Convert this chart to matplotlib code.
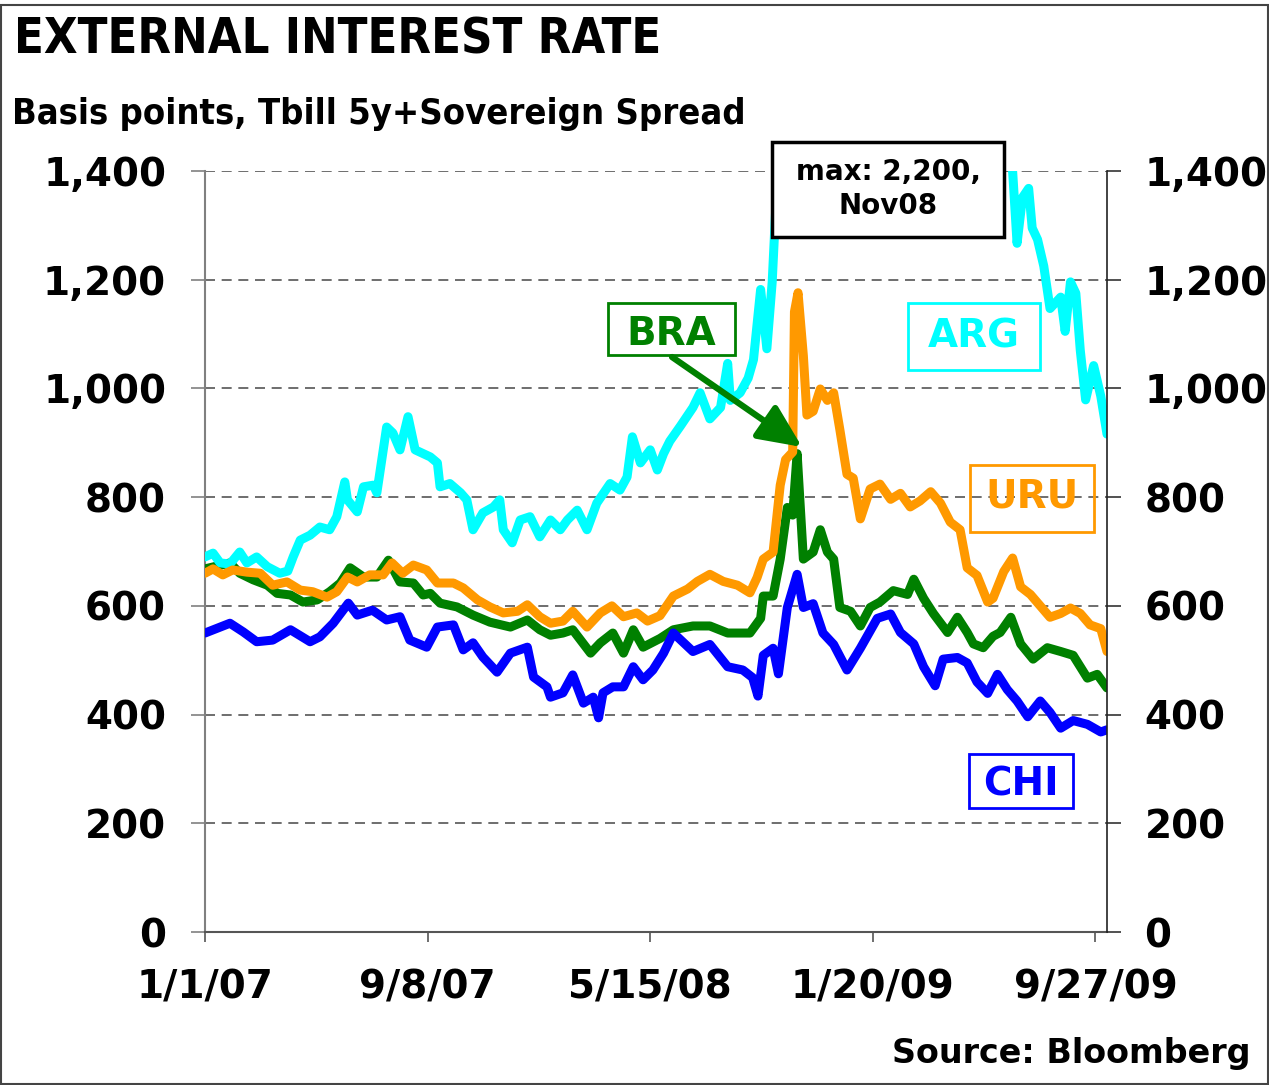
import pandas as pd
import matplotlib
matplotlib.use('Agg')
from matplotlib import pyplot as plt
from matplotlib.patches import Rectangle, FancyArrowPatch
from matplotlib.ticker import FuncFormatter

# readings: days since 1 Jan 2007 and basis points
start = pd.Timestamp('2007-01-01')

argDays = [0, 9, 17, 28, 39, 47, 58, 70, 84, 93, 99, 107, 118, 129, 140, 148, 157, 160, 171, 178,
           189, 193, 204, 211, 219, 228, 236, 253, 261, 264, 275, 287, 294, 301, 312, 324, 331, 335, 345, 354,
           365, 376, 388, 399, 407, 418, 429, 440, 455, 466, 474, 480, 489, 500, 508, 515, 522, 534, 548, 556,
           567, 579, 587, 590, 601, 610, 616, 624, 631, 637, 640, 646, 657, 672, 685, 700, 725, 758, 792, 826,
           860, 893, 907, 912, 918, 925, 929, 935, 942, 949, 961, 966, 972, 978, 983, 989, 998, 1006, 1013]
argBp = [690, 697, 679, 677, 699, 679, 690, 672, 660, 664, 690, 721, 730, 745, 740, 764, 828, 795, 773, 819,
         822, 808, 929, 918, 887, 948, 887, 874, 863, 819, 825, 808, 795, 740, 771, 782, 795, 740, 716, 758,
         764, 727, 758, 740, 758, 776, 740, 789, 825, 813, 837, 911, 863, 887, 850, 880, 903, 931, 965, 992,
         944, 965, 1046, 978, 992, 1019, 1053, 1182, 1073, 1196, 1298, 1500, 1700, 1950, 2200, 2050, 1900, 1800, 1750, 1700,
         1600, 1500, 1400, 1267, 1351, 1368, 1295, 1274, 1225, 1147, 1168, 1105, 1196, 1175, 1070, 979, 1042, 986, 916]

braDays = [0, 28, 39, 54, 70, 81, 96, 110, 126, 140, 152, 163, 178, 193, 206, 219, 234, 245, 253, 264,
           283, 301, 320, 343, 362, 376, 388, 402, 413, 433, 444, 458, 470, 481, 492, 511, 526, 548, 567, 587,
           612, 624, 627, 638, 646, 654, 660, 665, 672, 683, 691, 699, 706, 713, 725, 736, 747, 758, 773, 789,
           796, 807, 818, 834, 845, 856, 863, 874, 885, 893, 905, 916, 930, 946, 961, 975, 991, 1002, 1013]
braBp = [668, 679, 660, 648, 638, 623, 620, 607, 611, 626, 642, 670, 653, 653, 684, 644, 642, 620, 623, 605,
         598, 583, 570, 561, 574, 556, 546, 550, 556, 513, 532, 550, 513, 556, 524, 540, 556, 563, 563, 550,
         550, 577, 618, 618, 686, 781, 767, 880, 686, 699, 740, 699, 686, 597, 590, 563, 597, 607, 628, 621,
         649, 614, 586, 551, 579, 551, 530, 523, 544, 551, 579, 530, 502, 523, 516, 509, 467, 474, 449]

uruDays = [0, 9, 20, 31, 47, 62, 76, 92, 107, 121, 137, 148, 160, 171, 185, 200, 210, 222, 234, 249,
           261, 279, 290, 306, 320, 335, 351, 362, 376, 388, 402, 413, 429, 444, 457, 470, 485, 497, 511, 526,
           542, 553, 567, 582, 598, 612, 620, 627, 638, 646, 652, 660, 662, 666, 672, 676, 683, 691, 699, 706,
           713, 721, 728, 736, 747, 758, 770, 781, 792, 803, 815, 826, 837, 848, 856, 867, 879, 885, 897, 907,
           916, 927, 938, 949, 961, 972, 983, 994, 1006, 1013]
uruBp = [660, 668, 657, 666, 662, 660, 638, 644, 629, 626, 616, 626, 653, 644, 657, 657, 679, 660, 675, 666,
         642, 642, 633, 611, 598, 587, 590, 602, 580, 568, 572, 590, 561, 587, 600, 580, 587, 572, 582, 618,
         631, 645, 658, 645, 638, 624, 652, 686, 699, 822, 869, 883, 1141, 1176, 1060, 951, 958, 999, 978, 992,
         924, 842, 835, 760, 815, 824, 796, 807, 782, 793, 810, 789, 754, 740, 670, 656, 607, 614, 663, 688,
         635, 621, 600, 579, 586, 596, 586, 565, 558, 516]

chiDays = [0, 28, 43, 58, 76, 96, 118, 129, 144, 161, 171, 188, 204, 219, 230, 249, 261, 279, 290, 301,
           312, 328, 343, 362, 369, 384, 388, 402, 413, 425, 436, 442, 447, 458, 470, 481, 492, 503, 515, 526,
           548, 567, 587, 604, 615, 621, 627, 638, 644, 654, 665, 672, 683, 694, 706, 721, 736, 755, 770, 781,
           796, 807, 820, 829, 845, 856, 867, 879, 890, 901, 912, 924, 938, 949, 961, 975, 991, 1006, 1013]
chiBp = [550, 568, 552, 534, 537, 556, 534, 543, 568, 605, 583, 592, 574, 580, 537, 524, 561, 565, 519, 532,
         506, 478, 513, 524, 469, 451, 432, 440, 473, 421, 432, 394, 440, 451, 451, 488, 464, 482, 513, 550,
         516, 529, 488, 482, 468, 434, 509, 522, 475, 597, 658, 597, 604, 550, 529, 482, 522, 577, 585, 551,
         530, 488, 453, 502, 505, 495, 460, 439, 474, 446, 425, 396, 425, 404, 375, 389, 382, 368, 372]

xtickDates = pd.date_range('2007-01-01', periods=5, freq='250D')
yticks = [0, 200, 400, 600, 800, 1000, 1200, 1400]

W, H = 1269, 1085


def fx(px):
    return px / W


def fy(py):
    return 1 - py / H


def toDates(days):
    return start + pd.to_timedelta(days, unit='D')


plt.rcParams['font.family'] = 'DejaVu Sans'
plt.rcParams['font.weight'] = 'bold'

fig = plt.figure(figsize=(W / 100, H / 100), dpi=100)
ax = fig.add_axes([fx(205), fy(932), fx(1107) - fx(205), fy(171) - fy(932)])

lineStyle = dict(lw=6.5, solid_joinstyle='round', solid_capstyle='round')
ax.plot(toDates(braDays), braBp, color='#008000', zorder=3, **lineStyle)
ax.plot(toDates(uruDays), uruBp, color='#FF9900', zorder=4, **lineStyle)
ax.plot(toDates(chiDays), chiBp, color='#0000FF', zorder=3, **lineStyle)
ax.plot(toDates(argDays), argBp, color='#00FFFF', zorder=3, **lineStyle)

ax.set_xlim(start, pd.Timestamp('2009-10-10'))
ax.set_ylim(0, 1400)
ax.set_yticks(yticks)
ax.yaxis.set_major_formatter(FuncFormatter(lambda v, p: '{:,.0f}'.format(v)))
ax.set_xticks(xtickDates)
ax.set_xticklabels(['%d/%d/%s' % (d.month, d.day, d.strftime('%y')) for d in xtickDates])
ax.yaxis.grid(True, color='#555555', lw=1.2, ls=(0, (6, 4)))
ax.set_axisbelow(True)

ax.tick_params(axis='y', direction='out', length=10, width=1.2, color='#808080', pad=18, labelsize=28)
ax.tick_params(axis='x', direction='out', length=7, width=1.2, color='#555555', pad=19, labelsize=28)
ax.spines['top'].set_visible(False)
ax.spines['right'].set_visible(False)
ax.spines['left'].set_color('#808080')
ax.spines['left'].set_linewidth(1.5)
ax.spines['bottom'].set_color('#555555')
ax.spines['bottom'].set_linewidth(1.5)

ax2 = ax.twinx()
ax2.set_ylim(0, 1400)
ax2.set_yticks(yticks)
ax2.yaxis.set_major_formatter(FuncFormatter(lambda v, p: '{:,.0f}'.format(v)))
ax2.tick_params(axis='y', direction='out', length=10, width=1.2, color='#333333', pad=17, labelsize=28)
for s in ['top', 'left', 'bottom']:
    ax2.spines[s].set_visible(False)
ax2.spines['right'].set_color('#222222')
ax2.spines['right'].set_linewidth(1.2)

# titles
condensed = ['DejaVu Sans Condensed', 'DejaVu Sans']
fig.text(fx(14), fy(39), 'EXTERNAL INTEREST RATE', fontsize=35, fontweight='bold',
         family=condensed, fontstretch='condensed', va='center', ha='left')
fig.text(fx(12), fy(114), 'Basis points, Tbill 5y+Sovereign Spread', fontsize=26, fontweight='bold',
         family=condensed, fontstretch='condensed', va='center', ha='left')
fig.text(fx(1250), fy(1053), 'Source: Bloomberg', fontsize=24, fontweight='bold', va='center', ha='right')


def labelBox(x0, y0, x1, y1, text, color, ty, size=28, lw=2, face='none'):
    fig.add_artist(Rectangle((fx(x0), fy(y1)), fx(x1) - fx(x0), fy(y0) - fy(y1), transform=fig.transFigure,
                             facecolor=face, edgecolor=color, lw=lw, zorder=5))
    fig.text(fx((x0 + x1) / 2), fy(ty), text, color=color if face == 'none' else 'black',
             fontsize=size, fontweight='bold', ha='center', va='center', zorder=6, linespacing=1.25)


labelBox(608, 303, 735, 355, 'BRA', '#008000', 334)
labelBox(908, 303, 1040, 370, 'ARG', '#00FFFF', 337)
labelBox(970, 465, 1094, 532, 'URU', '#FF9900', 497)
labelBox(969, 754, 1073, 808, 'CHI', '#0000FF', 785)
labelBox(772, 142, 1004, 237, 'max: 2,200,\nNov08', 'black', 189, size=20, lw=2.5, face='white')

arrow = FancyArrowPatch((fx(672), fy(357)), (fx(802), fy(447)), transform=fig.transFigure,
                        arrowstyle='-|>,head_length=1.2,head_width=0.55', mutation_scale=22,
                        color='#008000', lw=4.5, shrinkA=0, shrinkB=0, zorder=7)
fig.add_artist(arrow)

fig.add_artist(Rectangle((0.001, 0.001), 0.998, 0.994, transform=fig.transFigure,
                         fill=False, edgecolor='#444444', lw=1.5, zorder=0))

plt.savefig('out.png', dpi=100)
